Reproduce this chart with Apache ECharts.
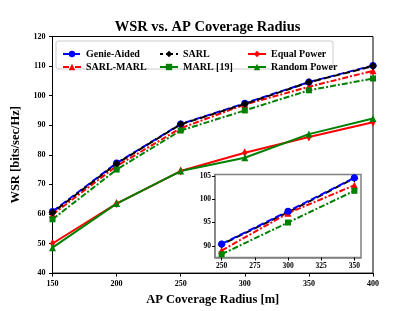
<!DOCTYPE html>
<html><head><meta charset="utf-8">
<script src="https://cdn.jsdelivr.net/npm/echarts@6/dist/echarts.min.js"></script>
<style>html,body{margin:0;padding:0;background:#fff}#c{width:415px;height:311px}</style>
</head><body><div id="c"></div>
<script>
const radius = [150, 200, 250, 300, 350, 400];
const genie = [60.8, 77.2, 90.4, 97.4, 104.6, 110.2];
const sarl = [60.5, 77.0, 90.3, 97.2, 104.5, 110.0];
const sarlMarl = [59.8, 76.2, 89.0, 97.0, 103.0, 108.4];
const marl = [58.2, 75.0, 88.2, 95.0, 101.8, 105.8];
const equalPower = [50.0, 63.5, 74.5, 80.7, 86.0, 91.0];
const randomPower = [48.6, 63.5, 74.5, 79.0, 87.0, 92.3];
const insetRadius = [250, 300, 350];
const xTicks = [150, 200, 250, 300, 350, 400];
const yTicks = [40, 50, 60, 70, 80, 90, 100, 110, 120];
const insetXTicks = [250, 275, 300, 325, 350];
const insetYTicks = [90, 95, 100, 105];

const F = 'Liberation Serif';
const pairs = (xs, ys) => xs.map((x, i) => [x, ys[i]]);
const insetVals = arr => insetRadius.map(r => arr[radius.indexOf(r)]);

const defs = [
  {name: 'Genie-Aided', data: genie, color: '#0000ff', type: [7, 3], symbol: 'circle', size: 7, off: 0},
  {name: 'SARL-MARL', data: sarlMarl, color: '#ff0000', type: [6, 2, 2, 2], symbol: 'triangle', size: 7, off: 0},
  {name: 'SARL', data: sarl, color: '#000000', type: [7, 3], symbol: 'diamond', size: 8, off: 4},
  {name: 'MARL [19]', data: marl, color: '#008000', type: [6, 2, 2, 2], symbol: 'rect', size: 6, off: 0},
  {name: 'Equal Power', data: equalPower, color: '#ff0000', type: 'solid', symbol: 'diamond', size: [5, 9], off: 0},
  {name: 'Random Power', data: randomPower, color: '#008000', type: 'solid', symbol: 'triangle', size: 7, off: 0}
];

const series = defs.map(d => ({
  name: d.name, type: 'line', xAxisIndex: 0, yAxisIndex: 0,
  data: pairs(radius, d.data), symbol: d.symbol, symbolSize: d.size,
  lineStyle: {color: d.color, width: 2, type: d.type, dashOffset: d.off},
  itemStyle: {color: d.color}, z: 2, animation: false
}));
[defs[2], defs[1], defs[3], defs[0]].forEach((d, k) => series.push({
  name: d.name + ' ', type: 'line', xAxisIndex: 1, yAxisIndex: 1,
  data: pairs(insetRadius, insetVals(d.data)), symbol: d.symbol, symbolSize: d.size,
  lineStyle: {color: d.color, width: 2, type: d.type, dashOffset: d.off},
  itemStyle: {color: d.color}, z: 12 + k, animation: false
}));

const axisLbl = (sz) => ({fontFamily: F, fontWeight: 'bold', fontSize: sz, color: '#000'});
const legendBase = {
  orient: 'vertical', itemWidth: 18, itemHeight: 8, itemGap: 1,
  textStyle: {fontFamily: F, fontWeight: 'bold', fontSize: 10, color: '#000', lineHeight: 12},
  z: 6
};

const option = {
  animation: false,
  backgroundColor: '#fff',
  title: {text: 'WSR vs. AP Coverage Radius', left: 'center', top: 15,
    textStyle: {fontFamily: F, fontWeight: 'bold', fontSize: 14.5, color: '#000'}},
  grid: [
    {left: 52.5, right: 42, top: 36.5, bottom: 35, show: true, borderColor: '#000', borderWidth: 1, z: 1},
    {left: 215, right: 54, top: 174.5, bottom: 53.5, show: true, borderColor: '#808080', borderWidth: 1.5, backgroundColor: '#fff', z: 10}
  ],
  xAxis: [
    {type: 'value', gridIndex: 0, min: 150, max: 400, interval: 50,
     name: 'AP Coverage Radius [m]', nameLocation: 'middle', nameGap: 17,
     nameTextStyle: {fontFamily: F, fontWeight: 'bold', fontSize: 12.5, color: '#000'},
     axisLine: {lineStyle: {color: '#000'}}, axisTick: {show: true, length: 3.5, lineStyle: {color: '#000'}},
     axisLabel: Object.assign(axisLbl(8), {margin: 7, customValues: xTicks}), splitLine: {show: false}},
    {type: 'value', gridIndex: 1, min: 245, max: 355, z: 11,
     axisLine: {onZero: false, lineStyle: {color: '#808080', width: 1.5}},
     axisTick: {show: true, length: 3, customValues: insetXTicks, lineStyle: {color: '#000'}},
     axisLabel: Object.assign(axisLbl(7.5), {margin: 5, customValues: insetXTicks}), splitLine: {show: false}}
  ],
  yAxis: [
    {type: 'value', gridIndex: 0, min: 40, max: 120, interval: 10,
     name: 'WSR [bits/sec/Hz]', nameLocation: 'middle', nameGap: 25,
     nameTextStyle: {fontFamily: F, fontWeight: 'bold', fontSize: 12.5, color: '#000'},
     axisLine: {lineStyle: {color: '#000'}}, axisTick: {show: true, length: 3.5, lineStyle: {color: '#000'}},
     axisLabel: Object.assign(axisLbl(8), {margin: 7, customValues: yTicks}), splitLine: {show: false}},
    {type: 'value', gridIndex: 1, min: 87.5, max: 105.3, z: 11,
     axisLine: {onZero: false, lineStyle: {color: '#808080', width: 1.5}},
     axisTick: {show: true, length: 3, customValues: insetYTicks, lineStyle: {color: '#000'}},
     axisLabel: Object.assign(axisLbl(7.5), {margin: 4, customValues: insetYTicks}), splitLine: {show: false}}
  ],
  legend: [
    Object.assign({}, legendBase, {left: 57, top: 43, data: ['Genie-Aided', 'SARL-MARL']}),
    Object.assign({}, legendBase, {left: 154, top: 43, data: ['SARL', 'MARL [19]']}),
    Object.assign({}, legendBase, {left: 242, top: 43, data: ['Equal Power', 'Random Power']})
  ],
  graphic: [{type: 'rect', shape: {x: 56, y: 41, width: 277, height: 28, r: 2},
    style: {fill: '#fff', stroke: '#cccccc', lineWidth: 1}, z: 5}],
  series: series
};
echarts.init(document.getElementById('c'), null, {renderer: 'canvas'}).setOption(option);
</script></body></html>
